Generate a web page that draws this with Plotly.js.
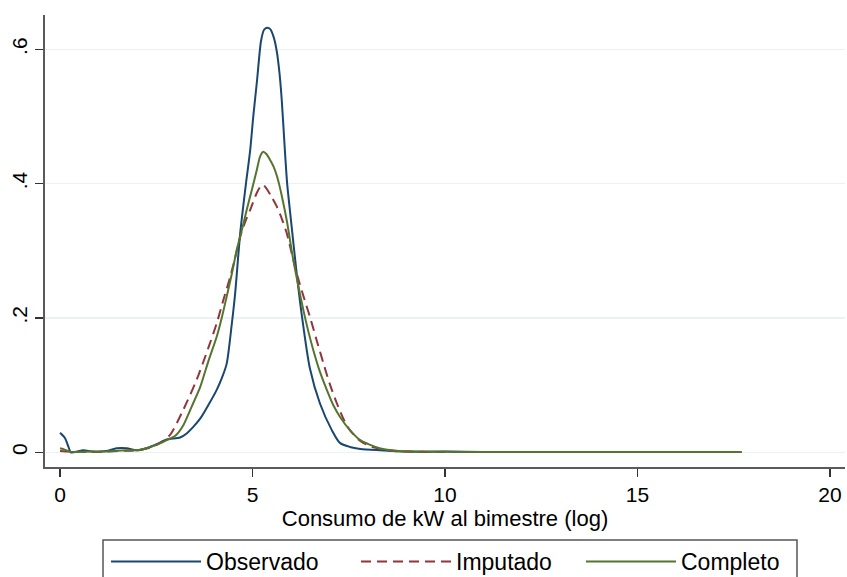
<!DOCTYPE html>
<html>
<head>
<meta charset="utf-8">
<script src="https://cdn.plot.ly/plotly-3.0.1.min.js"></script>
<style>html,body{margin:0;padding:0;background:#fff;}#chart{width:847px;height:577px;}</style>
</head>
<body>
<div id="chart"></div>
<script>
// Series names
const seriesNames = ["Observado", "Imputado", "Completo"];

// Observado (log kW per bimestre)
const xObservado = [0, 0.13, 0.22, 0.28, 0.45, 0.6, 0.87, 1.2, 1.47, 1.73, 2.0, 2.25, 2.51, 2.77, 3.12, 3.29, 3.45, 3.64, 3.85, 4.07, 4.2, 4.33, 4.46, 4.55, 4.68, 4.83, 4.94, 5.02, 5.12, 5.22, 5.3, 5.38, 5.46, 5.55, 5.63, 5.7, 5.76, 5.84, 5.9, 6.0, 6.15, 6.29, 6.49, 6.75, 7.06, 7.27, 7.53, 7.8, 8.3, 9.0, 10, 11, 12, 13, 14, 15, 16, 17, 17.7];
const yObservado = [0.029, 0.021, 0.008, 0.0, 0.001, 0.003, 0.001, 0.002, 0.006, 0.006, 0.003, 0.006, 0.012, 0.019, 0.022, 0.028, 0.037, 0.05, 0.07, 0.093, 0.11, 0.132, 0.19, 0.237, 0.326, 0.40, 0.45, 0.50, 0.555, 0.612, 0.629, 0.632, 0.63, 0.618, 0.597, 0.565, 0.524, 0.45, 0.40, 0.345, 0.265, 0.20, 0.125, 0.073, 0.033, 0.014, 0.008, 0.005, 0.003, 0.001, 0.001, 0.0005, 0.0005, 0.0005, 0.0005, 0.0005, 0.0005, 0.0005, 0.0005];

// Imputado
const xImputado = [0, 0.3, 0.8, 1.2, 1.6, 2.0, 2.34, 2.6, 2.86, 3.2, 3.55, 3.85, 4.07, 4.25, 4.42, 4.55, 4.68, 4.81, 4.94, 5.11, 5.2, 5.28, 5.36, 5.5, 5.63, 5.76, 5.89, 6.02, 6.15, 6.32, 6.49, 6.66, 6.84, 7.0, 7.19, 7.36, 7.53, 7.8, 8.1, 8.5, 9.0, 10, 11, 12, 13, 14, 15, 16, 17, 17.7];
const yImputado = [0.002, 0.001, 0.0005, 0.001, 0.002, 0.003, 0.007, 0.014, 0.026, 0.063, 0.108, 0.155, 0.192, 0.228, 0.261, 0.29, 0.321, 0.343, 0.361, 0.386, 0.395, 0.398, 0.393, 0.38, 0.366, 0.348, 0.326, 0.296, 0.266, 0.233, 0.202, 0.168, 0.133, 0.103, 0.073, 0.05, 0.033, 0.017, 0.008, 0.003, 0.001, 0.0005, 0.0005, 0.0005, 0.0005, 0.0005, 0.0005, 0.0005, 0.0005, 0.0005];

// Completo
const xCompleto = [0, 0.12, 0.26, 0.5, 0.8, 1.1, 1.4, 1.8, 2.08, 2.34, 2.51, 2.77, 3.0, 3.2, 3.42, 3.64, 3.85, 4.07, 4.2, 4.33, 4.46, 4.59, 4.72, 4.85, 4.98, 5.11, 5.2, 5.28, 5.36, 5.45, 5.55, 5.63, 5.7, 5.76, 5.89, 6.06, 6.2, 6.32, 6.45, 6.58, 6.75, 6.93, 7.1, 7.27, 7.53, 7.8, 8.3, 8.8, 9.5, 10.5, 11.5, 12.5, 13.5, 14.5, 15.5, 16.5, 17.7];
const yCompleto = [0.006, 0.004, 0.001, 0.0005, 0.001, 0.001, 0.002, 0.003, 0.0035, 0.008, 0.011, 0.018, 0.025, 0.04, 0.068, 0.097, 0.135, 0.172, 0.2, 0.232, 0.265, 0.301, 0.33, 0.361, 0.39, 0.42, 0.441, 0.4475, 0.444, 0.436, 0.425, 0.412, 0.397, 0.382, 0.345, 0.286, 0.245, 0.212, 0.18, 0.152, 0.12, 0.093, 0.07, 0.053, 0.033, 0.018, 0.006, 0.002, 0.001, 0.0005, 0.0005, 0.0005, 0.0005, 0.0005, 0.0005, 0.0005, 0.0005];

// Axis ticks
const xTickVals = [0, 5, 10, 15, 20];
const xTickText = ["0", "5", "10", "15", "20"];
const yTickVals = [0, 0.2, 0.4, 0.6];
const yTickText = ["0", ".2", ".4", ".6"];
const xTitle = "Consumo de kW al bimestre (log)";

const FONT = "Liberation Sans, Arial, sans-serif";

const traces = [
  {x: xObservado, y: yObservado, name: seriesNames[0], type: "scatter", mode: "lines", legend: "legend",
   line: {color: "#1a476f", width: 2, shape: "spline", smoothing: 0.7}},
  {x: xImputado, y: yImputado, name: seriesNames[1], type: "scatter", mode: "lines", legend: "legend2",
   line: {color: "#90353b", width: 2, dash: "10px,6px", shape: "spline", smoothing: 0.7}},
  {x: xCompleto, y: yCompleto, name: seriesNames[2], type: "scatter", mode: "lines", legend: "legend3",
   line: {color: "#55752f", width: 2, shape: "spline", smoothing: 0.7}}
];

function legendAt(xpx) {
  return {
    orientation: "h", xref: "container", yref: "container",
    x: xpx / 847, xanchor: "left", y: 0.0641, yanchor: "top",
    borderwidth: 0, bgcolor: "rgba(0,0,0,0)",
    font: {size: 23, family: FONT}, itemwidth: 90
  };
}

const layout = {
  width: 847, height: 577,
  margin: {l: 45, r: 2, t: 15, b: 110},
  paper_bgcolor: "#ffffff", plot_bgcolor: "#ffffff",
  font: {family: FONT, color: "#000000", size: 21},
  showlegend: true,
  xaxis: {
    range: [-0.39, 20.39], tickvals: xTickVals, ticktext: xTickText,
    showgrid: false, zeroline: false,
    showline: true, linecolor: "#5a5a5a", linewidth: 2,
    ticks: "outside", ticklen: 8, tickwidth: 1.5, tickcolor: "#333333",
    tickfont: {size: 21, family: FONT},
    title: {text: xTitle, font: {size: 22, family: FONT}, standoff: 2}
  },
  yaxis: {
    range: [-0.0219, 0.651], tickvals: yTickVals, ticktext: yTickText,
    showgrid: true, gridcolor: "#eaf2f3", gridwidth: 1.5, zeroline: false,
    showline: true, linecolor: "#5a5a5a", linewidth: 2,
    ticks: "outside", ticklen: 8, tickwidth: 1.5, tickcolor: "#333333",
    tickangle: -90, tickfont: {size: 21, family: FONT}
  },
  legend: legendAt(106),
  legend2: legendAt(356),
  legend3: legendAt(581),
  shapes: [{
    type: "rect", xref: "paper", yref: "paper",
    x0: 0.0725, x1: 0.94, y0: -0.35, y1: -0.1615,
    line: {color: "#555555", width: 1.5}, fillcolor: "rgba(0,0,0,0)", layer: "below"
  }]
};

Plotly.newPlot("chart", traces, layout, {displayModeBar: false, staticPlot: true});
</script>
</body>
</html>
